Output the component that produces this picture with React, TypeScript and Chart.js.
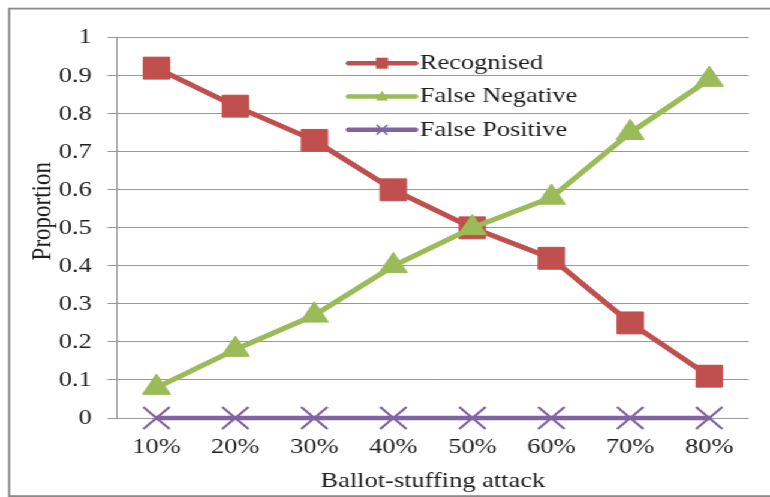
import React, { useEffect, useRef } from 'react';
import { Chart, registerables } from 'chart.js';

Chart.register(...registerables);

// ---- data ----
const categories = ['10%', '20%', '30%', '40%', '50%', '60%', '70%', '80%'];
const seriesLabels = ['Recognised', 'False Negative', 'False Positive'];
const recognised = [0.92, 0.82, 0.73, 0.6, 0.5, 0.42, 0.25, 0.11];
const falseNegative = [0.08, 0.18, 0.27, 0.4, 0.5, 0.58, 0.75, 0.89];
const falsePositive = [0, 0, 0, 0, 0, 0, 0, 0];
const yMin = 0;
const yMax = 1;
const yStep = 0.1;
const xTitle = 'Ballot-stuffing attack';
const yTitle = 'Proportion';

const colors = ['#C0504D', '#9BBB59', '#8064A2'];

const W = 642;
const H = 497;
const SX = 770 / W;
const FONT = "'Liberation Serif', 'Times New Roman', serif";
const TEXT = '#1e1e1e';
const GRID = '#989898';

const borderPlugin = {
  id: 'outerBorder',
  beforeDraw(chart: any) {
    const ctx = chart.ctx;
    ctx.save();
    ctx.fillStyle = '#ffffff';
    ctx.fillRect(0, 0, chart.width, chart.height);
    ctx.strokeStyle = '#8a8a8a';
    ctx.lineWidth = 1.8;
    ctx.strokeRect(7.6, 8.6, 700, 487.5);
    ctx.restore();
  },
};

const yTitlePlugin = {
  id: 'yTitleText',
  afterDraw(chart: any) {
    const ctx = chart.ctx;
    const area = chart.chartArea;
    ctx.save();
    ctx.translate(36, area.top + 173.5);
    ctx.rotate(-Math.PI / 2);
    ctx.fillStyle = TEXT;
    ctx.font = `23px ${FONT}`;
    ctx.textAlign = 'center';
    ctx.textBaseline = 'middle';
    ctx.fillText(yTitle, 0, 0);
    ctx.restore();
  },
};

const legendPlugin = {
  id: 'innerLegend',
  afterDatasetsDraw(chart: any) {
    const ctx = chart.ctx;
    const area = chart.chartArea;
    const x0 = area.left + 193;
    const x1 = area.left + 249;
    const xm = (x0 + x1) / 2;
    const xt = area.left + 252.5;
    chart.data.datasets.forEach((ds: any, i: number) => {
      const y = area.top + 25.5 + i * 33.3;
      ctx.save();
      ctx.strokeStyle = ds.borderColor;
      ctx.fillStyle = ds.borderColor;
      ctx.lineWidth = 4.5;
      ctx.lineCap = 'round';
      ctx.beginPath();
      ctx.moveTo(x0, y);
      ctx.lineTo(x1, y);
      ctx.stroke();
      if (ds.pointStyle === 'rect') {
        ctx.fillRect(xm - 5, y - 5.5, 10, 11);
      } else if (ds.pointStyle === 'triangle') {
        ctx.beginPath();
        ctx.moveTo(xm, y - 6);
        ctx.lineTo(xm + 5, y + 4);
        ctx.lineTo(xm - 5, y + 4);
        ctx.closePath();
        ctx.fill();
      } else {
        ctx.lineWidth = 1.5;
        ctx.lineCap = 'butt';
        ctx.beginPath();
        ctx.moveTo(xm - 4.5, y - 5);
        ctx.lineTo(xm + 4.5, y + 5);
        ctx.moveTo(xm + 4.5, y - 5);
        ctx.lineTo(xm - 4.5, y + 5);
        ctx.stroke();
      }
      ctx.fillStyle = TEXT;
      ctx.font = `22px ${FONT}`;
      ctx.textAlign = 'left';
      ctx.textBaseline = 'middle';
      ctx.fillText(ds.label, xt, y);
      ctx.restore();
    });
  },
};

export default function App() {
  const ref = useRef<HTMLCanvasElement>(null);

  useEffect(() => {
    const canvas = ref.current;
    if (!canvas) return;
    const chart = new Chart(canvas, {
      type: 'line',
      data: {
        labels: categories,
        datasets: [
          {
            label: seriesLabels[0],
            data: recognised,
            borderColor: colors[0],
            backgroundColor: colors[0],
            borderWidth: 5,
            borderJoinStyle: 'round',
            borderCapStyle: 'round',
            pointStyle: 'rect',
            pointRadius: 15.5,
            pointBorderWidth: 1,
            pointBackgroundColor: colors[0],
            pointBorderColor: colors[0],
            clip: false,
            order: 3,
          },
          {
            label: seriesLabels[1],
            data: falseNegative,
            borderColor: colors[1],
            backgroundColor: colors[1],
            borderWidth: 5,
            borderJoinStyle: 'round',
            borderCapStyle: 'round',
            pointStyle: 'triangle',
            pointRadius: 13.5,
            pointBorderWidth: 1,
            pointBackgroundColor: colors[1],
            pointBorderColor: colors[1],
            clip: false,
            order: 2,
          },
          {
            label: seriesLabels[2],
            data: falsePositive,
            borderColor: colors[2],
            backgroundColor: colors[2],
            borderWidth: 4.5,
            borderJoinStyle: 'round',
            borderCapStyle: 'round',
            pointStyle: 'crossRot',
            pointRadius: 15.5,
            pointBorderWidth: 2.2,
            pointBackgroundColor: colors[2],
            pointBorderColor: colors[2],
            clip: false,
            order: 1,
          },
        ],
      },
      options: {
        responsive: false,
        animation: false,
        devicePixelRatio: 1,
        layout: { padding: { left: 8, right: 14.5, top: 37.7, bottom: 0 } },
        plugins: {
          legend: { display: false },
          tooltip: { enabled: false },
          title: { display: false },
        },
        scales: {
          x: {
            type: 'category',
            offset: true,
            grid: { display: false, drawTicks: false },
            border: { display: false },
            ticks: {
              color: TEXT,
              font: { family: FONT, size: 22 },
              padding: 16,
              maxRotation: 0,
              autoSkip: false,
            },
            title: {
              display: true,
              text: xTitle,
              color: TEXT,
              font: { family: FONT, size: 22 },
              padding: { top: 0, bottom: 2.5 },
            },
            afterFit: (scale: any) => {
              scale.height = 79;
            },
          },
          y: {
            min: yMin,
            max: yMax,
            grid: {
              color: GRID,
              lineWidth: 1,
              tickLength: 8,
              drawTicks: true,
            },
            border: { display: true, color: GRID, width: 1 },
            ticks: {
              stepSize: yStep,
              color: TEXT,
              font: { family: FONT, size: 22 },
              padding: 13,
              callback: (v: any) => String(Number(Number(v).toFixed(1))),
            },
            title: { display: false },
            afterFit: (scale: any) => {
              scale.width = 89.5;
            },
          },
        },
      },
      plugins: [borderPlugin, legendPlugin, yTitlePlugin],
    });
    return () => chart.destroy();
  }, []);

  return (
    <div
      style={{
        position: 'fixed',
        left: 0,
        top: 0,
        width: W,
        height: H,
        transform: `scaleX(${SX})`,
        transformOrigin: '0 0',
        background: '#fff',
      }}
    >
      <canvas ref={ref} width={W} height={H} style={{ display: 'block', width: W, height: H }} />
    </div>
  );
}
